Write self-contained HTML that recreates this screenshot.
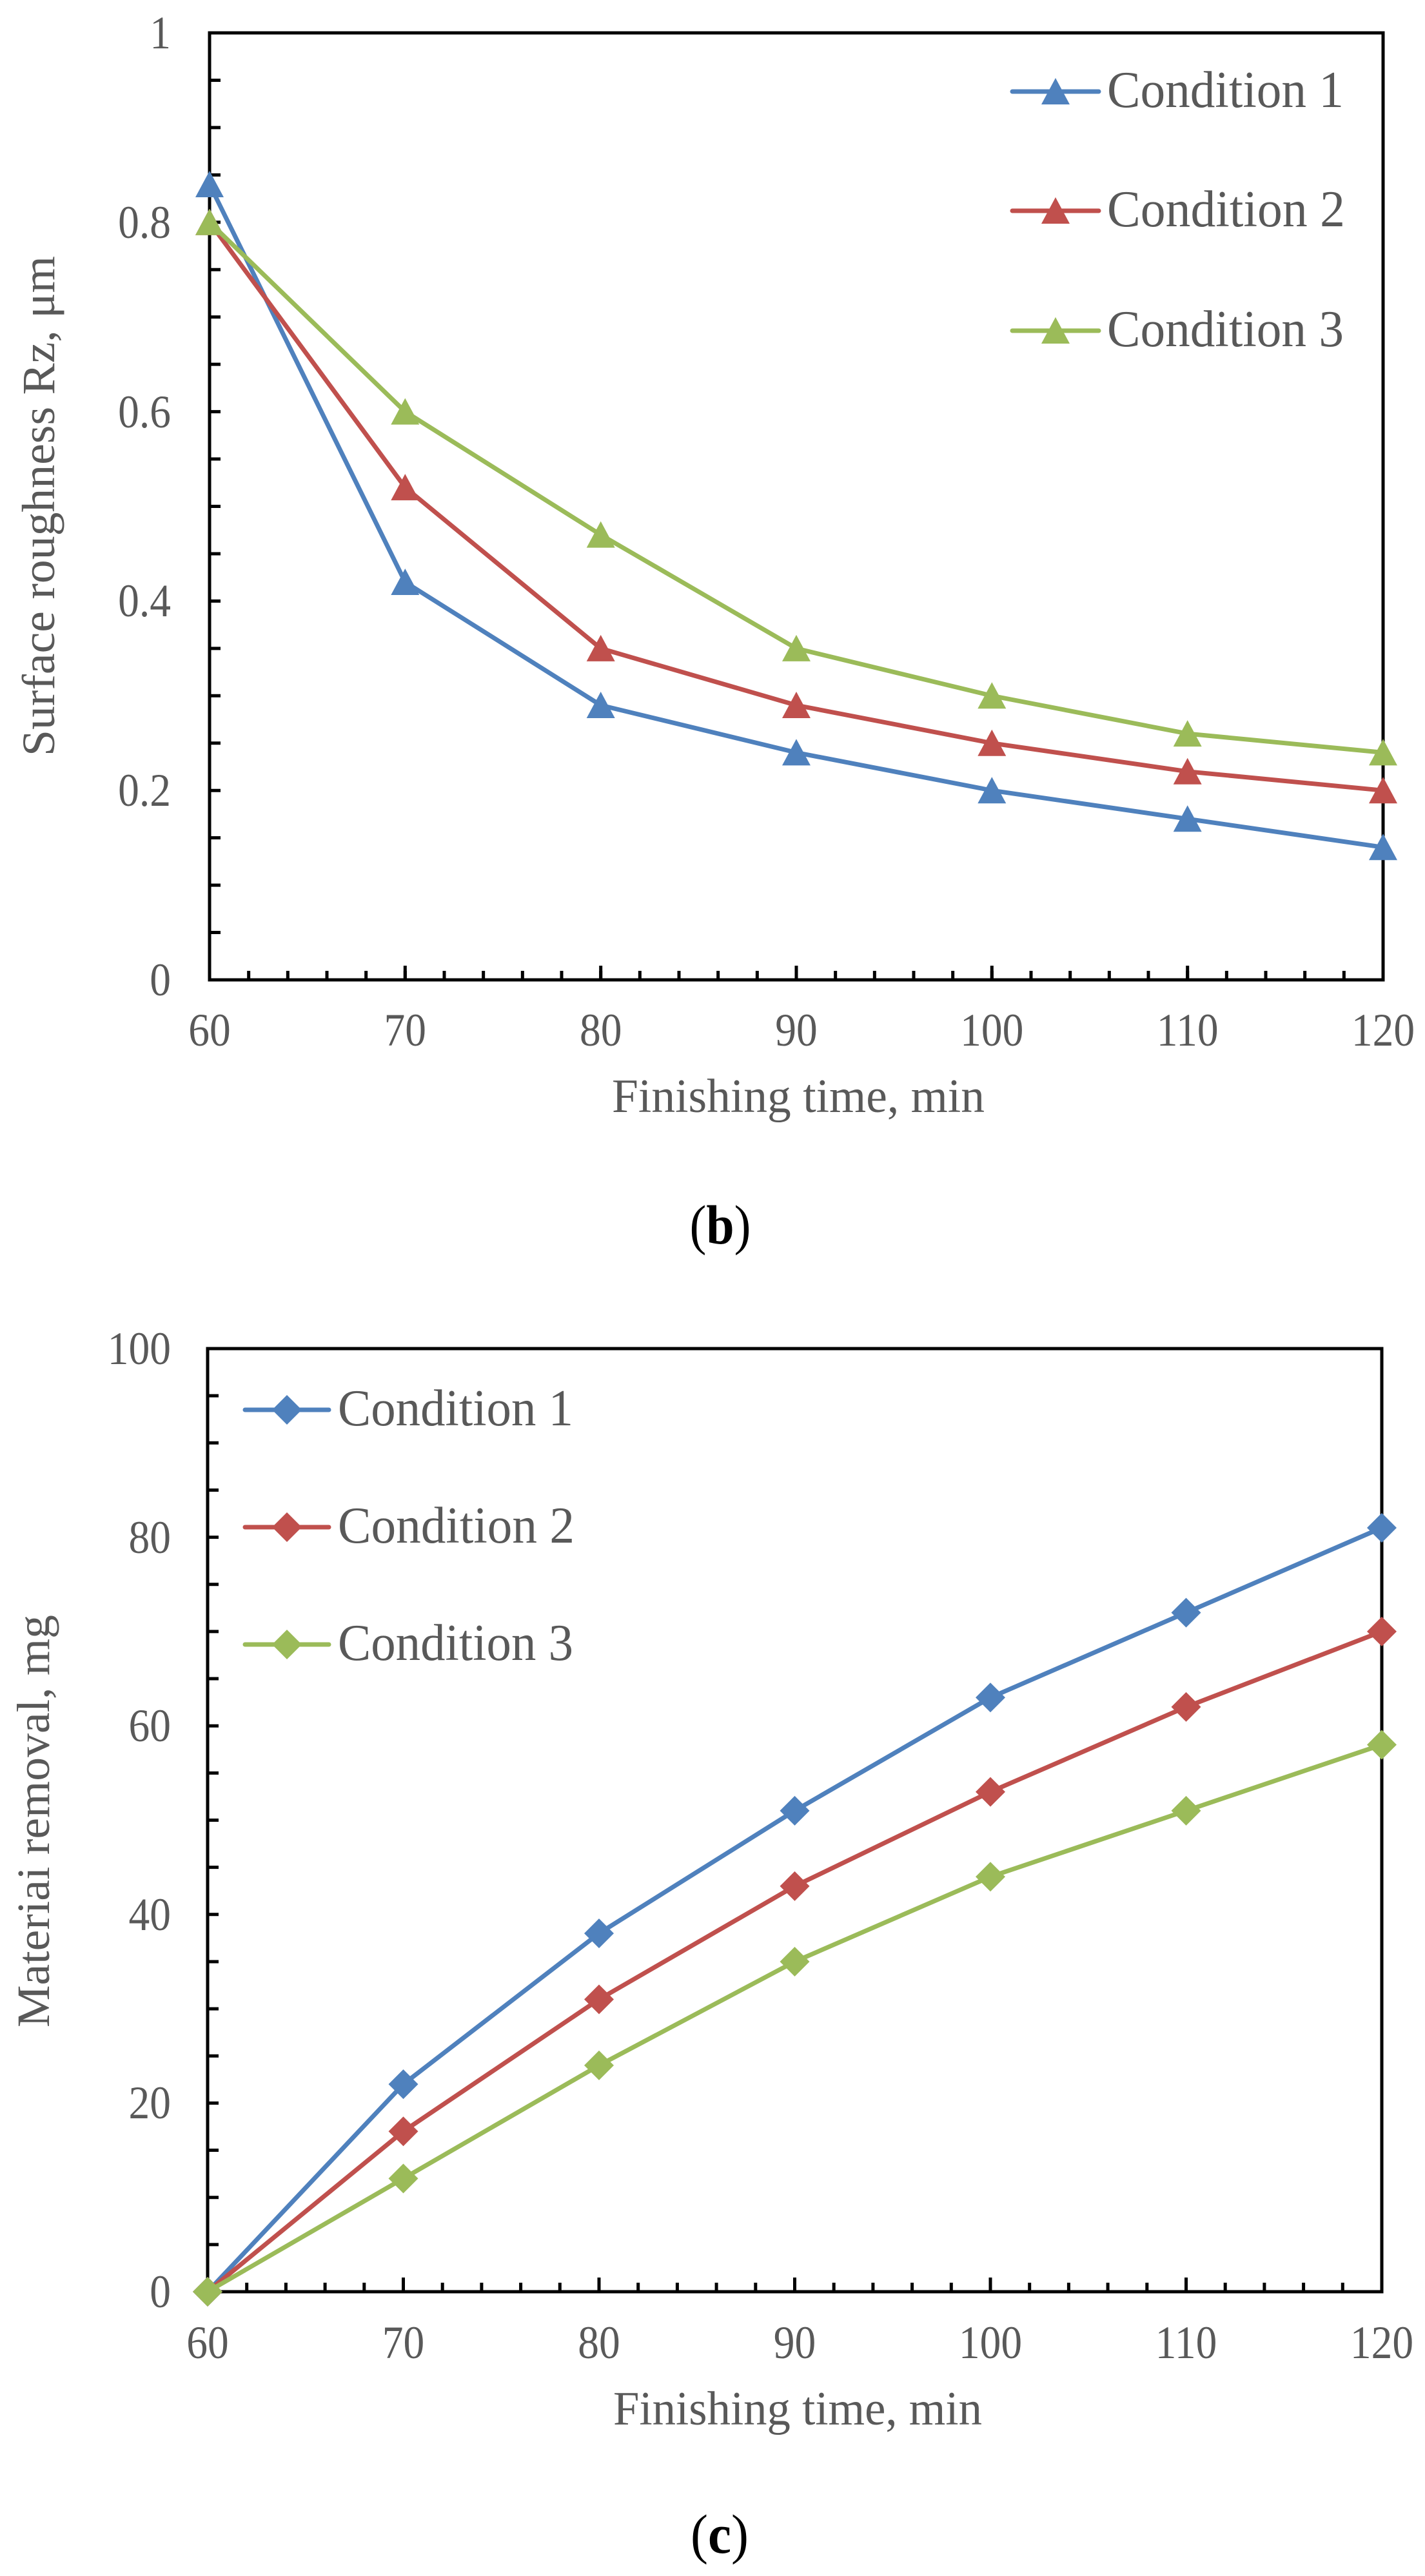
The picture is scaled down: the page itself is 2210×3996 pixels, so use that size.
<!DOCTYPE html>
<html>
<head>
<meta charset="utf-8">
<style>
  html,body{margin:0;padding:0;background:#fff;}
  svg{display:block;}
  text{font-family:"Liberation Serif","Times New Roman",serif;}
</style>
</head>
<body>
<svg width="2210" height="3996" viewBox="0 0 2210 3996" xmlns="http://www.w3.org/2000/svg">
  <defs>
    <path id="tri" d="M0 -21 L22 20 L-22 20 Z"/>
    <path id="dia" d="M0 -23 L23 0 L0 23 L-23 0 Z"/>
  </defs>
  <rect width="2210" height="3996" fill="#fff"/>

  <!-- ================= CHART (b) ================= -->
  <!-- plot frame -->
  <rect x="325" y="51" width="1820" height="1469" fill="none" stroke="#000" stroke-width="5"/>
  <!-- y ticks (every 0.05) -->
  <path d="M333.5 1522.5 V51" stroke="#000" stroke-width="17" stroke-dasharray="5 68.45" fill="none"/>
  <!-- x minor ticks (every 2) -->
  <path d="M322.5 1513 H2145" stroke="#000" stroke-width="14" stroke-dasharray="5 55.667" fill="none"/>
  <!-- x major ticks -->
  <path d="M628.3 1520v-22M931.7 1520v-22M1235 1520v-22M1538.3 1520v-22M1841.7 1520v-22" stroke="#000" stroke-width="5" fill="none"/>

  <!-- y tick labels -->
  <g font-size="72" fill="#595959" text-anchor="end">
    <text transform="translate(265,1544) scale(0.91,1)">0</text>
    <text transform="translate(265,1250) scale(0.91,1)">0.2</text>
    <text transform="translate(265,956) scale(0.91,1)">0.4</text>
    <text transform="translate(265,663) scale(0.91,1)">0.6</text>
    <text transform="translate(265,369) scale(0.91,1)">0.8</text>
    <text transform="translate(265,75) scale(0.91,1)">1</text>
  </g>
  <!-- x tick labels -->
  <g font-size="72" fill="#595959" text-anchor="middle">
    <text transform="translate(325,1622) scale(0.91,1)">60</text>
    <text transform="translate(628.3,1622) scale(0.91,1)">70</text>
    <text transform="translate(931.7,1622) scale(0.91,1)">80</text>
    <text transform="translate(1235,1622) scale(0.91,1)">90</text>
    <text transform="translate(1538.3,1622) scale(0.91,1)">100</text>
    <text transform="translate(1841.7,1622) scale(0.91,1)">110</text>
    <text transform="translate(2145,1622) scale(0.91,1)">120</text>
  </g>
  <!-- axis titles -->
  <text x="1238" y="1725" text-anchor="middle" font-size="74" fill="#595959" textLength="578" lengthAdjust="spacingAndGlyphs">Finishing time, min</text>
  <text transform="translate(84,785) rotate(-90)" text-anchor="middle" font-size="72" fill="#595959" textLength="776" lengthAdjust="spacingAndGlyphs">Surface roughness Rz, μm</text>

  <!-- series b -->
  <g fill="none" stroke-width="7" stroke-linejoin="round" stroke-linecap="round">
    <polyline stroke="#4F81BD" points="325,286 628.3,903 931.7,1094 1235,1167.4 1538.3,1226.2 1841.7,1270.3 2145,1314.3"/>
  </g>
  <g fill="#4F81BD">
    <use href="#tri" x="325" y="286"/><use href="#tri" x="628.3" y="903"/><use href="#tri" x="931.7" y="1094"/><use href="#tri" x="1235" y="1167.4"/><use href="#tri" x="1538.3" y="1226.2"/><use href="#tri" x="1841.7" y="1270.3"/><use href="#tri" x="2145" y="1314.3"/>
  </g>
  <g fill="none" stroke-width="7" stroke-linejoin="round" stroke-linecap="round">
    <polyline stroke="#C0504D" points="325,344.8 628.3,756.1 931.7,1005.9 1235,1094 1538.3,1152.8 1841.7,1196.8 2145,1226.2"/>
  </g>
  <g fill="#C0504D">
    <use href="#tri" x="325" y="344.8"/><use href="#tri" x="628.3" y="756.1"/><use href="#tri" x="931.7" y="1005.9"/><use href="#tri" x="1235" y="1094"/><use href="#tri" x="1538.3" y="1152.8"/><use href="#tri" x="1841.7" y="1196.8"/><use href="#tri" x="2145" y="1226.2"/>
  </g>
  <g fill="none" stroke-width="7" stroke-linejoin="round" stroke-linecap="round">
    <polyline stroke="#9BBB59" points="325,344.8 628.3,638.6 931.7,829.6 1235,1005.9 1538.3,1079.3 1841.7,1138.1 2145,1167.4"/>
  </g>
  <g fill="#9BBB59">
    <use href="#tri" x="325" y="344.8"/><use href="#tri" x="628.3" y="638.6"/><use href="#tri" x="931.7" y="829.6"/><use href="#tri" x="1235" y="1005.9"/><use href="#tri" x="1538.3" y="1079.3"/><use href="#tri" x="1841.7" y="1138.1"/><use href="#tri" x="2145" y="1167.4"/>
  </g>

  <!-- legend b -->
  <g stroke-width="7" stroke-linecap="round">
    <line x1="1570" y1="142" x2="1704" y2="142" stroke="#4F81BD"/>
    <line x1="1570" y1="327" x2="1704" y2="327" stroke="#C0504D"/>
    <line x1="1570" y1="513" x2="1704" y2="513" stroke="#9BBB59"/>
  </g>
  <use href="#tri" x="1637" y="142" fill="#4F81BD"/>
  <use href="#tri" x="1637" y="327" fill="#C0504D"/>
  <use href="#tri" x="1637" y="513" fill="#9BBB59"/>
  <g font-size="80" fill="#595959">
    <text x="1717" y="166" textLength="367" lengthAdjust="spacingAndGlyphs">Condition 1</text>
    <text x="1717" y="351" textLength="369" lengthAdjust="spacingAndGlyphs">Condition 2</text>
    <text x="1717" y="537" textLength="367" lengthAdjust="spacingAndGlyphs">Condition 3</text>
  </g>

  <!-- caption b -->
  <text x="1117" y="1929" text-anchor="middle" font-size="86" fill="#000" textLength="95" lengthAdjust="spacingAndGlyphs">(<tspan font-weight="bold">b</tspan>)</text>

  <!-- ================= CHART (c) ================= -->
  <rect x="322" y="2092" width="1821" height="1463" fill="none" stroke="#000" stroke-width="5"/>
  <!-- y ticks (every 5) -->
  <path d="M330.5 3557.5 V2092" stroke="#000" stroke-width="17" stroke-dasharray="5 68.15" fill="none"/>
  <!-- x minor ticks -->
  <path d="M319.5 3548 H2143" stroke="#000" stroke-width="14" stroke-dasharray="5 55.7" fill="none"/>
  <!-- x major ticks -->
  <path d="M625.5 3555v-22M929 3555v-22M1232.5 3555v-22M1536 3555v-22M1839.5 3555v-22" stroke="#000" stroke-width="5" fill="none"/>

  <g font-size="72" fill="#595959" text-anchor="end">
    <text transform="translate(265,3579) scale(0.91,1)">0</text>
    <text transform="translate(265,3286) scale(0.91,1)">20</text>
    <text transform="translate(265,2994) scale(0.91,1)">40</text>
    <text transform="translate(265,2701) scale(0.91,1)">60</text>
    <text transform="translate(265,2409) scale(0.91,1)">80</text>
    <text transform="translate(265,2116) scale(0.91,1)">100</text>
  </g>
  <g font-size="72" fill="#595959" text-anchor="middle">
    <text transform="translate(322,3658) scale(0.91,1)">60</text>
    <text transform="translate(625.5,3658) scale(0.91,1)">70</text>
    <text transform="translate(929,3658) scale(0.91,1)">80</text>
    <text transform="translate(1232.5,3658) scale(0.91,1)">90</text>
    <text transform="translate(1536,3658) scale(0.91,1)">100</text>
    <text transform="translate(1839.5,3658) scale(0.91,1)">110</text>
    <text transform="translate(2143,3658) scale(0.91,1)">120</text>
  </g>
  <text x="1237" y="3761" text-anchor="middle" font-size="74" fill="#595959" textLength="572" lengthAdjust="spacingAndGlyphs">Finishing time, min</text>
  <text transform="translate(76,2825) rotate(-90)" text-anchor="middle" font-size="72" fill="#595959" textLength="640" lengthAdjust="spacingAndGlyphs">Materiai  removal, mg</text>

  <!-- series c -->
  <polyline fill="none" stroke="#4F81BD" stroke-width="7" stroke-linejoin="round" stroke-linecap="round" points="322,3555 625.5,3233.1 929,2999.1 1232.5,2808.9 1536,2633.3 1839.5,2501.6 2143,2370"/>
  <g fill="#4F81BD">
    <use href="#dia" x="322" y="3555"/><use href="#dia" x="625.5" y="3233.1"/><use href="#dia" x="929" y="2999.1"/><use href="#dia" x="1232.5" y="2808.9"/><use href="#dia" x="1536" y="2633.3"/><use href="#dia" x="1839.5" y="2501.6"/><use href="#dia" x="2143" y="2370"/>
  </g>
  <polyline fill="none" stroke="#C0504D" stroke-width="7" stroke-linejoin="round" stroke-linecap="round" points="322,3555 625.5,3306.3 929,3101.5 1232.5,2925.9 1536,2779.6 1839.5,2647.9 2143,2530.9"/>
  <g fill="#C0504D">
    <use href="#dia" x="322" y="3555"/><use href="#dia" x="625.5" y="3306.3"/><use href="#dia" x="929" y="3101.5"/><use href="#dia" x="1232.5" y="2925.9"/><use href="#dia" x="1536" y="2779.6"/><use href="#dia" x="1839.5" y="2647.9"/><use href="#dia" x="2143" y="2530.9"/>
  </g>
  <polyline fill="none" stroke="#9BBB59" stroke-width="7" stroke-linejoin="round" stroke-linecap="round" points="322,3555 625.5,3379.4 929,3203.9 1232.5,3043 1536,2911.3 1839.5,2808.9 2143,2706.5"/>
  <g fill="#9BBB59">
    <use href="#dia" x="322" y="3555"/><use href="#dia" x="625.5" y="3379.4"/><use href="#dia" x="929" y="3203.9"/><use href="#dia" x="1232.5" y="3043"/><use href="#dia" x="1536" y="2911.3"/><use href="#dia" x="1839.5" y="2808.9"/><use href="#dia" x="2143" y="2706.5"/>
  </g>

  <!-- legend c -->
  <g stroke-width="7" stroke-linecap="round">
    <line x1="380" y1="2187" x2="510" y2="2187" stroke="#4F81BD"/>
    <line x1="380" y1="2369" x2="510" y2="2369" stroke="#C0504D"/>
    <line x1="380" y1="2551" x2="510" y2="2551" stroke="#9BBB59"/>
  </g>
  <use href="#dia" x="445" y="2187" fill="#4F81BD"/>
  <use href="#dia" x="445" y="2369" fill="#C0504D"/>
  <use href="#dia" x="445" y="2551" fill="#9BBB59"/>
  <g font-size="80" fill="#595959">
    <text x="524" y="2211" textLength="365" lengthAdjust="spacingAndGlyphs">Condition 1</text>
    <text x="524" y="2393" textLength="367" lengthAdjust="spacingAndGlyphs">Condition 2</text>
    <text x="524" y="2575" textLength="365" lengthAdjust="spacingAndGlyphs">Condition 3</text>
  </g>

  <!-- caption c -->
  <text x="1116" y="3960" text-anchor="middle" font-size="86" fill="#000" textLength="90" lengthAdjust="spacingAndGlyphs">(<tspan font-weight="bold">c</tspan>)</text>
</svg>
</body>
</html>
